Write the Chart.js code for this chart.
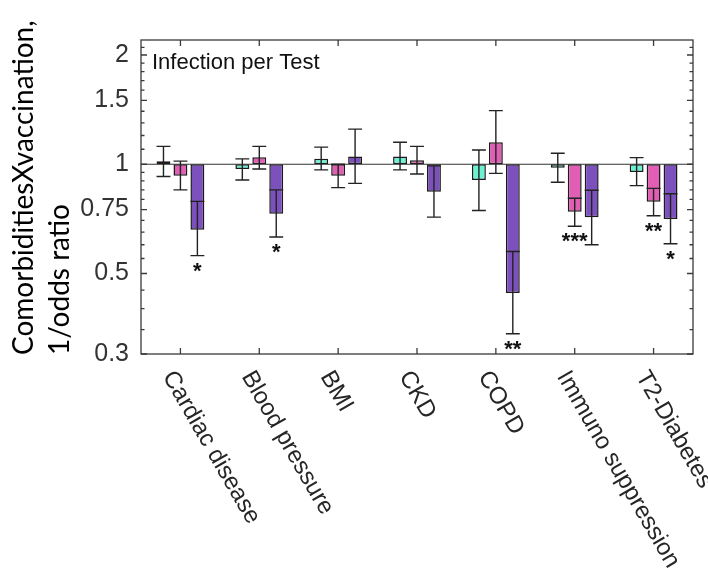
<!DOCTYPE html>
<html lang="en">
<head>
  <meta charset="UTF-8">
  <title>Comorbidities x vaccination, 1/odds ratio</title>
  <style>
    body {
      margin: 0;
      background: #fff;
    }
    #chartBox {
      width: 708px;
      height: 587px;
    }
  </style>
</head>
<body>
  <div id="chartBox">
    <canvas id="oddsChart" width="708" height="587"></canvas>
  </div>

  <script src="https://cdn.jsdelivr.net/npm/chart.js"></script>
  <script>
    const categories = ['Cardiac disease', 'Blood pressure', 'BMI', 'CKD', 'COPD', 'Immuno suppression', 'T2-Diabetes'];

    // three groups per comorbidity (cyan, pink, purple)
    const cyanValues = [1.02, 0.97, 1.035, 1.05, 0.905, 0.978, 0.952];
    const cyanLow    = [0.925, 0.905, 0.965, 0.965, 0.746, 0.892, 0.873];
    const cyanHigh   = [1.12, 1.035, 1.115, 1.15, 1.095, 1.072, 1.043];
    const cyanStars  = ['', '', '', '', '', '', ''];

    const pinkValues = [0.93, 1.045, 0.93, 1.025, 1.15, 0.74, 0.788];
    const pinkLow    = [0.85, 0.97, 0.862, 0.94, 0.944, 0.675, 0.721];
    const pinkHigh   = [1.02, 1.12, 1.0, 1.12, 1.405, 0.806, 0.858];
    const pinkStars  = ['', '', '', '', '', '***', '**'];

    const purpleValues = [0.66, 0.73, 1.05, 0.84, 0.442, 0.714, 0.706];
    const purpleLow    = [0.56, 0.63, 0.886, 0.715, 0.341, 0.6, 0.604];
    const purpleHigh   = [0.79, 0.85, 1.25, 0.99, 0.575, 0.848, 0.829];
    const purpleStars  = ['*', '*', '', '', '**', '', '*'];

    const yTickLabels = [0.3, 0.5, 0.75, 1, 1.5, 2];
    const yMinorTicks = [0.35, 0.4, 0.45, 0.55, 0.6, 0.65, 0.7, 0.8, 0.85, 0.9, 0.95,
                         1.1, 1.2, 1.3, 1.4, 1.6, 1.7, 1.8, 1.9, 2.1];

    const panelTitle = 'Infection per Test';
    const yTitle = ['ComorbiditiesXvaccination,', '1/odds ratio'];

    function makeSet(label, values, low, high, stars, color) {
      return {
        label: label,
        data: values.map(v => [1, v]),   // bars hang from ratio 1
        errLow: low,
        errHigh: high,
        stars: stars,
        backgroundColor: color,
        borderColor: '#1a1a1a',
        borderWidth: 1.5,
        borderSkipped: false,
        barPercentage: 0.82,
        categoryPercentage: 0.645
      };
    }

    // error bars, ratio-1 line, box, inward ticks and text
    const decorPlugin = {
      id: 'decor',
      afterDatasetsDraw(chart) {
        const ctx = chart.ctx;
        const a = chart.chartArea;
        const x = chart.scales.x;
        const y = chart.scales.y;
        ctx.save();

        const y1 = y.getPixelForValue(1);
        ctx.strokeStyle = '#333';
        ctx.lineWidth = 1.2;
        ctx.beginPath();
        ctx.moveTo(a.left, y1);
        ctx.lineTo(a.right, y1);
        ctx.stroke();

        ctx.strokeStyle = '#222';
        ctx.lineWidth = 1.4;
        ctx.fillStyle = '#111';
        ctx.font = 'bold 22px "Liberation Sans", Arial, sans-serif';
        ctx.textAlign = 'center';
        ctx.textBaseline = 'alphabetic';
        chart.data.datasets.forEach((ds, i) => {
          chart.getDatasetMeta(i).data.forEach((bar, j) => {
            const top = y.getPixelForValue(ds.errHigh[j]);
            const bot = y.getPixelForValue(ds.errLow[j]);
            const hw = bar.width / 2;
            ctx.beginPath();
            ctx.moveTo(bar.x, top);
            ctx.lineTo(bar.x, bot);
            ctx.moveTo(bar.x - hw, top);
            ctx.lineTo(bar.x + hw, top);
            ctx.moveTo(bar.x - hw, bot);
            ctx.lineTo(bar.x + hw, bot);
            ctx.stroke();
            if (ds.stars[j]) {
              ctx.fillText(ds.stars[j], bar.x, bot + 22);
            }
          });
        });

        // axes box
        ctx.strokeStyle = '#3a3a3a';
        ctx.lineWidth = 1.3;
        ctx.strokeRect(a.left, a.top, a.right - a.left, a.bottom - a.top);

        // inward ticks
        ctx.beginPath();
        const yTick = (v, len) => {
          const py = y.getPixelForValue(v);
          ctx.moveTo(a.left, py);
          ctx.lineTo(a.left + len, py);
          ctx.moveTo(a.right, py);
          ctx.lineTo(a.right - len, py);
        };
        yTickLabels.forEach(v => yTick(v, 6));
        yMinorTicks.forEach(v => yTick(v, 3.5));
        x.ticks.forEach((t, i) => {
          const px = x.getPixelForTick(i);
          ctx.moveTo(px, a.bottom);
          ctx.lineTo(px, a.bottom - 6);
          ctx.moveTo(px, a.top);
          ctx.lineTo(px, a.top + 6);
        });
        ctx.stroke();

        // panel title
        ctx.fillStyle = '#111';
        ctx.textAlign = 'left';
        ctx.font = '22px "Liberation Sans", Arial, sans-serif';
        ctx.fillText(panelTitle, a.left + 11, a.top + 29);
        ctx.restore();
      },
      afterDraw(chart) {
        const ctx = chart.ctx;
        const a = chart.chartArea;
        const x = chart.scales.x;
        ctx.save();

        // rotated category labels
        ctx.fillStyle = '#262626';
        ctx.font = '24px "Liberation Sans", Arial, sans-serif';
        ctx.textAlign = 'left';
        ctx.textBaseline = 'top';
        categories.forEach((c, i) => {
          const px = x.getPixelForTick(i);
          ctx.save();
          ctx.translate(px - 2, a.bottom + 13);
          ctx.rotate(Math.PI / 3);
          ctx.fillText(c, 0, 0);
          ctx.restore();
        });

        // y axis title, two lines
        ctx.fillStyle = '#000';
        ctx.font = '28px Lato, "Noto Sans", sans-serif';
        ctx.textBaseline = 'alphabetic';
        ctx.translate(33, a.bottom + 1);
        ctx.rotate(-Math.PI / 2);
        ctx.fillText(yTitle[0], 0, 0);
        ctx.fillText(yTitle[1], 0, 35.5);
        ctx.restore();
      }
    };

    const ctx = document.getElementById('oddsChart').getContext('2d');
    new Chart(ctx, {
      type: 'bar',
      data: {
        labels: categories,
        datasets: [
          makeSet('group 1', cyanValues, cyanLow, cyanHigh, cyanStars, '#6cf2d3'),
          makeSet('group 2', pinkValues, pinkLow, pinkHigh, pinkStars, '#e05fb4'),
          makeSet('group 3', purpleValues, purpleLow, purpleHigh, purpleStars, '#7d51bd')
        ]
      },
      options: {
        responsive: false,
        animation: false,
        devicePixelRatio: 1,
        layout: {
          padding: { left: 0, right: 15, top: 40, bottom: 233 }
        },
        plugins: {
          legend: { display: false },
          tooltip: { enabled: false }
        },
        scales: {
          x: {
            type: 'category',
            grid: { display: false },
            border: { display: false },
            ticks: { display: false },
            afterFit(scale) { scale.height = 0; }
          },
          y: {
            type: 'logarithmic',
            min: 0.3,
            max: 2.2,
            grid: { display: false, drawTicks: false },
            border: { display: false },
            afterBuildTicks(scale) {
              scale.ticks = yTickLabels.map(v => ({ value: v }));
            },
            ticks: {
              autoSkip: false,
              padding: 12,
              color: '#333',
              font: { family: 'Liberation Sans', size: 25 },
              callback: v => String(v)
            },
            afterFit(scale) { scale.width = 141; }
          }
        }
      },
      plugins: [decorPlugin]
    });
  </script>
</body>
</html>
